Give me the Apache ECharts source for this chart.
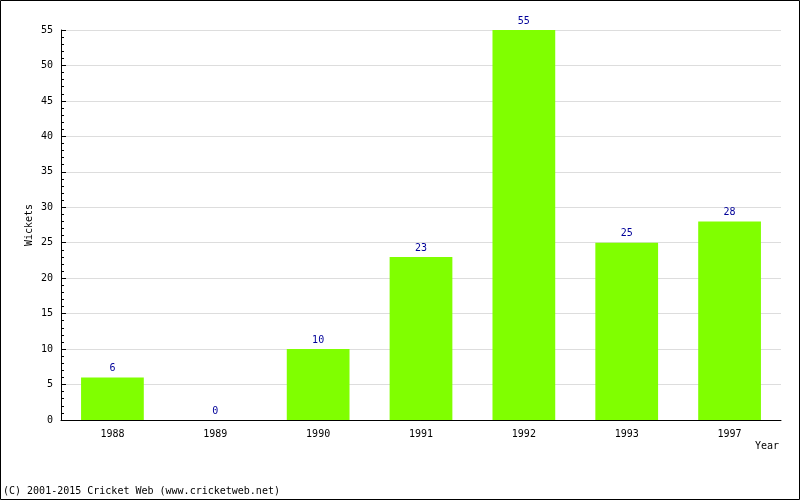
<!DOCTYPE html>
<html><head><meta charset="utf-8">
<script src="https://cdn.jsdelivr.net/npm/echarts@6/dist/echarts.min.js"></script>
<style>html,body{margin:0;padding:0;background:#fff}#c{width:800px;height:500px}</style>
</head><body><div id="c"></div>
<script>
const years = ['1988','1989','1990','1991','1992','1993','1997'];
const wickets = [6, 0, 10, 23, 55, 25, 28];
const F = '"DejaVu Sans Mono", monospace';
const chart = echarts.init(document.getElementById('c'));
chart.setOption({
  animation: false,
  backgroundColor: '#fff',
  grid: {left: 61, right: 19, top: 30, bottom: 80, containLabel: false},
  xAxis: {
    type: 'category', data: years,
    axisLine: {lineStyle: {color: '#000', width: 1}},
    axisTick: {inside: true, length: 5, lineStyle: {color: '#000'}},
    axisLabel: {fontFamily: F, fontSize: 10, color: '#000', margin: 9},
    splitLine: {show: false}
  },
  yAxis: {
    type: 'value', min: 0, max: 55, interval: 5,
    name: 'Wickets', nameLocation: 'middle', nameGap: 27, nameRotate: 90,
    nameMoveOverlap: false,
    nameTextStyle: {fontFamily: F, fontSize: 10, color: '#000'},
    axisLine: {show: true, lineStyle: {color: '#000', width: 1}},
    axisTick: {show: true, inside: true, length: 5, lineStyle: {color: '#000'}},
    minorTick: {show: true, splitNumber: 5, length: 3, lineStyle: {color: '#000'}},
    axisLabel: {fontFamily: F, fontSize: 10, color: '#000', margin: 8},
    splitLine: {show: true, lineStyle: {color: '#dddddd', width: 1}}
  },
  series: [{
    type: 'bar', data: wickets, barCategoryGap: '39%',
    itemStyle: {color: '#80ff00'},
    label: {show: true, position: 'top', distance: 4, fontFamily: F, fontSize: 10, color: '#000099'}
  }],
  graphic: [
    {type: 'rect', shape: {x: 0.5, y: 0.5, width: 799, height: 499}, style: {fill: 'none', stroke: '#000', lineWidth: 1}, silent: true},
    {type: 'text', left: 755, top: 441, style: {text: 'Year', font: '10px ' + F, fill: '#000'}},
    {type: 'text', left: 3, top: 486, style: {text: '(C) 2001-2015 Cricket Web (www.cricketweb.net)', font: '10px ' + F, fill: '#000'}}
  ]
});
</script></body></html>
